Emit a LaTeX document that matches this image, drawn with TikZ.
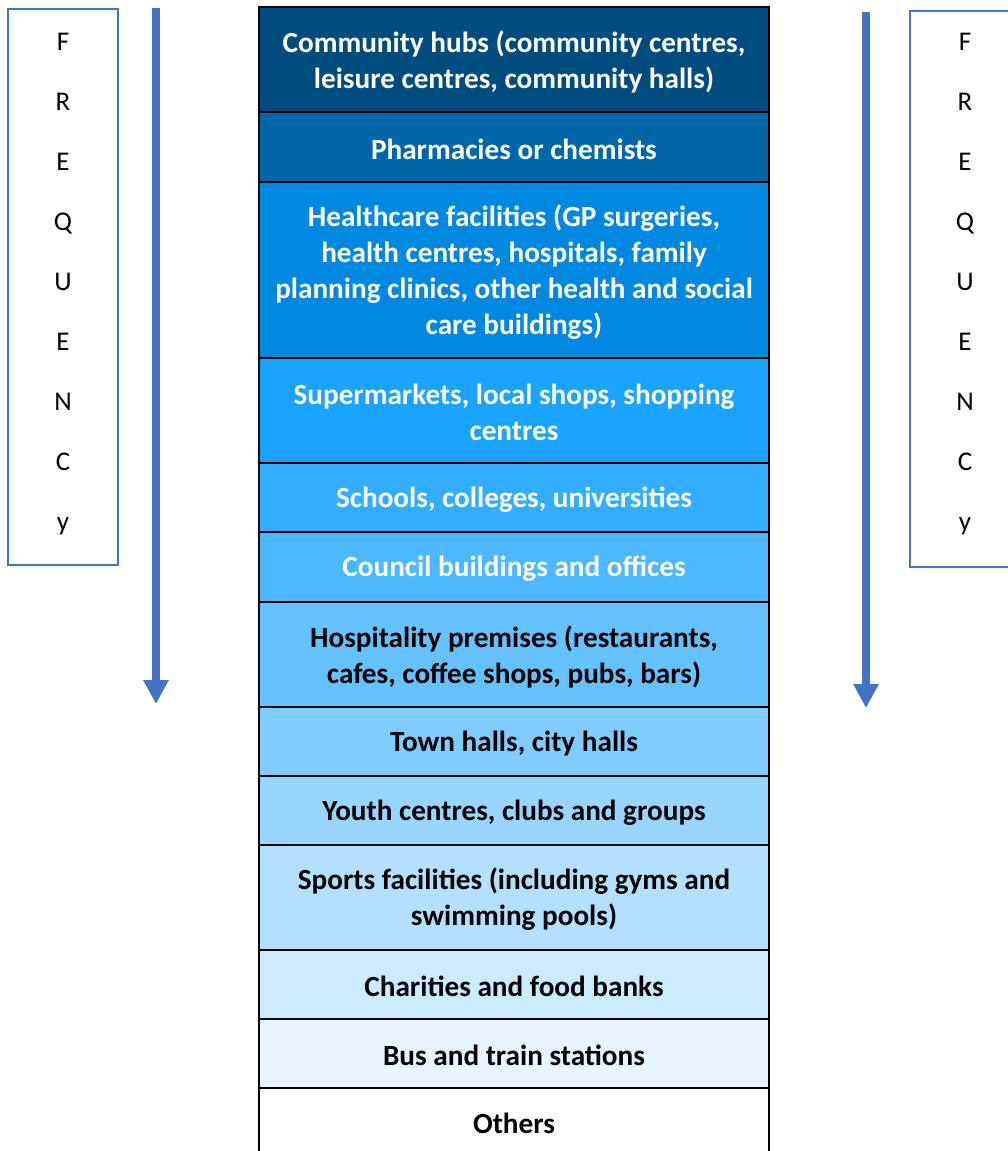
\documentclass[tikz,border=0pt]{standalone}
\usepackage{fontspec}
\setmainfont{Carlito}
\usetikzlibrary{arrows.meta}
\definecolor{c1}{HTML}{004C7F}
\definecolor{c2}{HTML}{0066AA}
\definecolor{c3}{HTML}{0088E0}
\definecolor{c4}{HTML}{1AA3FF}
\definecolor{c5}{HTML}{33ADFF}
\definecolor{c6}{HTML}{4DB8FF}
\definecolor{c7}{HTML}{66C2FF}
\definecolor{c8}{HTML}{80CCFF}
\definecolor{c9}{HTML}{99D6FF}
\definecolor{c10}{HTML}{B3E0FF}
\definecolor{c11}{HTML}{CCEBFF}
\definecolor{c12}{HTML}{E6F5FF}
\definecolor{arrowblue}{HTML}{4472C4}
\tikzset{
  rowbox/.style={draw=black, line width=2.5pt, rectangle, minimum width=510pt, inner sep=0pt},
  rowtext/.style={inner sep=0pt, align=center, font=\fontsize{29.2}{36}\selectfont\bfseries},
  letterbox/.style={draw=arrowblue, line width=2pt, rectangle, inner sep=0pt},
  letter/.style={font=\fontsize{27}{30}\selectfont, inner sep=0pt},
  freqarrow/.style={draw=arrowblue, line width=8pt, -{Triangle[width=24pt,length=24pt]}}
}
\begin{document}
\begin{tikzpicture}[x=1pt,y=-1pt]
\useasboundingbox (0,0) rectangle (1008,1151);
\fill[white] (0,0) rectangle (1008,1151);
\clip (0,0) rectangle (1008,1151);
% rows
\node[rowbox, fill=c1, minimum height=105pt] (r1) at (514,59.5) {};
\node[rowbox, fill=c2, minimum height=70pt] (r2) at (514,147) {};
\node[rowbox, fill=c3, minimum height=176pt] (r3) at (514,270) {};
\node[rowbox, fill=c4, minimum height=105pt] (r4) at (514,410.5) {};
\node[rowbox, fill=c5, minimum height=69pt] (r5) at (514,497.5) {};
\node[rowbox, fill=c6, minimum height=70pt] (r6) at (514,567) {};
\node[rowbox, fill=c7, minimum height=105pt] (r7) at (514,654.5) {};
\node[rowbox, fill=c8, minimum height=69pt] (r8) at (514,741.5) {};
\node[rowbox, fill=c9, minimum height=69pt] (r9) at (514,810.5) {};
\node[rowbox, fill=c10, minimum height=105pt] (r10) at (514,897.5) {};
\node[rowbox, fill=c11, minimum height=69pt] (r11) at (514,984.5) {};
\node[rowbox, fill=c12, minimum height=69pt] (r12) at (514,1053.5) {};
\node[rowbox, fill=white, minimum height=90pt] (r13) at (514,1133) {};
% row texts
\node[rowtext, text=white] (t1) at ([yshift=-2pt]r1.center) {Community hubs (community centres,\\leisure centres, community halls)};
\node[rowtext, text=white] (t2) at ([yshift=-2pt]r2.center) {Pharmacies or chemists};
\node[rowtext, text=white] (t3) at ([yshift=-2pt]r3.center) {Healthcare facilities (GP surgeries,\\health centres, hospitals, family\\planning clinics, other health and social\\care buildings)};
\node[rowtext, text=white] (t4) at ([yshift=-2pt]r4.center) {Supermarkets, local shops, shopping\\centres};
\node[rowtext, text=white] (t5) at ([yshift=-2pt]r5.center) {Schools, colleges, universities};
\node[rowtext, text=white] (t6) at ([yshift=-2pt]r6.center) {Council buildings and offices};
\node[rowtext, text=black] (t7) at ([yshift=-2pt]r7.center) {Hospitality premises (restaurants,\\cafes, coffee shops, pubs, bars)};
\node[rowtext, text=black] (t8) at ([yshift=-2pt]r8.center) {Town halls, city halls};
\node[rowtext, text=black] (t9) at ([yshift=-2pt]r9.center) {Youth centres, clubs and groups};
\node[rowtext, text=black] (t10) at ([yshift=-2pt]r10.center) {Sports facilities (including gyms and\\swimming pools)};
\node[rowtext, text=black] (t11) at ([yshift=-2pt]r11.center) {Charities and food banks};
\node[rowtext, text=black] (t12) at ([yshift=-2pt]r12.center) {Bus and train stations};
\node[rowtext, text=black] (t13) at (514,1123) {Others};
% letter boxes
\node[letterbox, minimum width=110pt, minimum height=556pt] (lb) at (63,287) {};
\node[letterbox, minimum width=120pt, minimum height=556pt] (rb) at (970,289) {};
\foreach \l [count=\i from 0] in {F,R,E,Q,U,E,N,C,y} {
  \node[letter] (ll\i) at (63,{44+60*\i}) {\strut\l};
  \node[letter] (rl\i) at (965,{44+60*\i}) {\strut\l};
}
% arrows
\coordinate (la1) at (156,8);
\coordinate (la2) at (156,704);
\coordinate (ra1) at (866,12);
\coordinate (ra2) at (866,708);
\draw[freqarrow] (la1) -- (la2);
\draw[freqarrow] (ra1) -- (ra2);
\end{tikzpicture}
\end{document}
